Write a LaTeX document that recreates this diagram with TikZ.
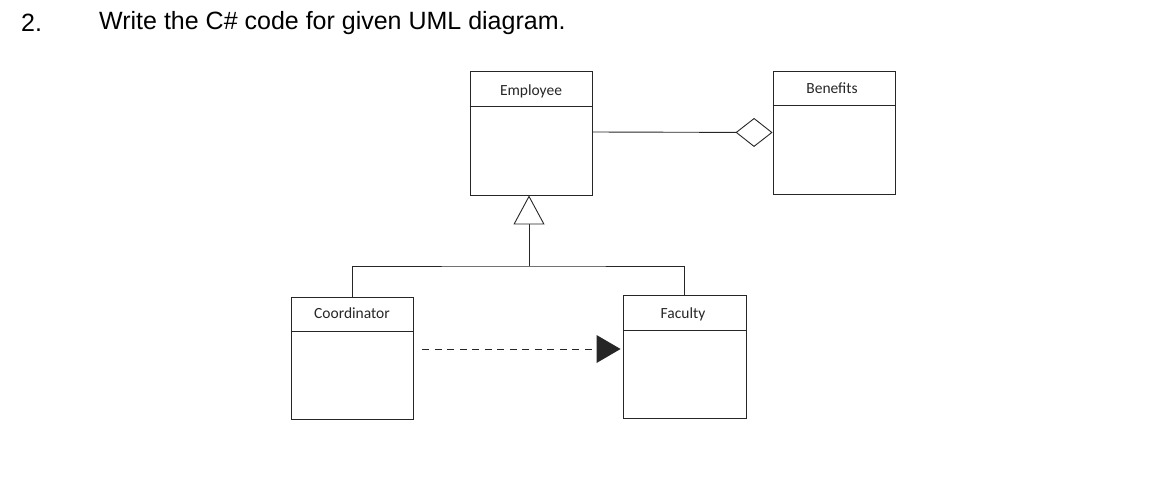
\documentclass[tikz,border=0pt]{standalone}
\usepackage{fontspec}
\setmainfont{Liberation Sans}
\newfontfamily\calib{Carlito}
\usetikzlibrary{arrows.meta}
\begin{document}
\begin{tikzpicture}[x=1pt,y=-1pt,
  cls/.style={draw=black!85, line width=0.9pt, inner sep=0pt},
  lbl/.style={font=\calib\fontsize{15.5}{18}\selectfont, text=black!85, inner sep=0pt},
  conn/.style={draw=black!85, line width=0.9pt},
  title/.style={font=\fontsize{25}{30}\selectfont, anchor=west, inner sep=0pt}]
\useasboundingbox (0,0) rectangle (1166,493);
% title
\node[title] (num) at (21,23) {2.};
\node[title] (q) at (99,23) {Write the C\# code for given UML diagram.};
% classes
\node[cls, minimum width=122pt, minimum height=124pt] (emp) at (531,133) {};
\node[cls, minimum width=122pt, minimum height=123pt] (ben) at (834,132.5) {};
\node[cls, minimum width=122pt, minimum height=122pt] (crd) at (352,358) {};
\node[cls, minimum width=123pt, minimum height=123pt] (fac) at (684.5,356.5) {};
% dividers
\draw[conn] ([yshift=-36pt]emp.north west) -- ([yshift=-36pt]emp.north east);
\draw[conn] ([yshift=-35pt]ben.north west) -- ([yshift=-35pt]ben.north east);
\draw[conn] ([yshift=-35pt]crd.north west) -- ([yshift=-35pt]crd.north east);
\draw[conn] ([yshift=-36pt]fac.north west) -- ([yshift=-36pt]fac.north east);
% labels
\node[lbl] (empl) at (531,91) {Employee};
\node[lbl] (benl) at (832,88) {Benefits};
\node[lbl] (crdl) at (352,313) {Coordinator};
\node[lbl] (facl) at (683,314) {Faculty};
% aggregation
\draw[conn, -{Diamond[open, fill=white, length=37pt, width=29pt, line width=0.9pt]}] ([yshift=1pt]emp.east) -- (ben.west);
% generalization tree
\coordinate (jn) at (529,266);
\draw[conn] (crd.north) |- (jn) -| (fac.north);
\draw[conn, -{Triangle[open, fill=white, length=29pt, width=31pt, line width=0.9pt]}] (jn) -- (jn |- emp.south);
% dependency
\draw[conn, line width=1pt, dash pattern=on 7pt off 5.5pt, -{Triangle[length=24pt, width=28pt, line width=0pt]}]
  ([xshift=9pt, yshift=9pt]crd.east) -- ([xshift=-2pt, yshift=7.5pt]fac.west);
\end{tikzpicture}
\end{document}
